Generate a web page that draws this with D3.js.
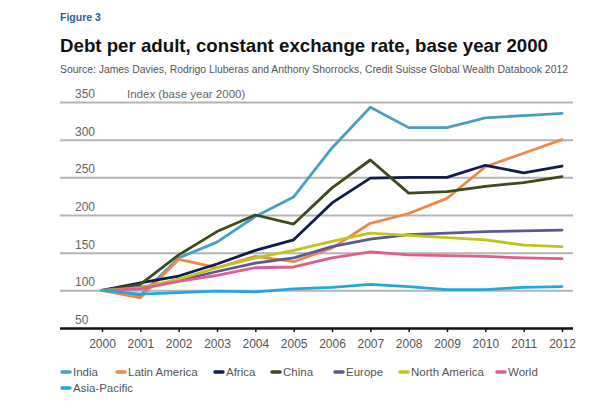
<!DOCTYPE html>
<html><head><meta charset="utf-8">
<script src="https://cdn.jsdelivr.net/npm/d3@7"></script>
<style>body{margin:0;background:#fff;} svg{display:block;}</style>
</head><body>
<svg id="c" width="600" height="413"></svg>
<script>
const years = [2000,2001,2002,2003,2004,2005,2006,2007,2008,2009,2010,2011,2012];
const yTicks = [50,100,150,200,250,300,350];
const seriesNames = ["India","Latin America","Africa","China","Europe","North America","World","Asia-Pacific"];
const india        = [100, 93,143,164,198,224,289,343,316,316,329,332,335];
const latinAmerica = [100, 90,141,130,145,138,156,189,202,222,264,282,300];
const africa       = [100,110,119,135,153,167,216,249,250,250,266,256,265];
const china        = [100,108,147,178,200,188,236,273,229,231,238,243,251];
const europe       = [100,104,113,125,136,143,158,168,174,176,178,179,180];
const northAmerica = [100,103,115,130,143,153,165,176,173,170,167,160,158];
const world        = [100,102,112,120,130,131,143,151,147,146,145,143,142];
const asiaPacific  = [100, 95, 97, 99, 98,102,104,108,105,101,101,104,105];
const values = [india,latinAmerica,africa,china,europe,northAmerica,world,asiaPacific];
const colors = ["#4a9ec2","#e98a4c","#0f1d4d","#3d4a1c","#5b5898","#c3c31e","#e25c8c","#22a9db"];

const svg = d3.select("#c");
const font = "'Liberation Sans', Arial, sans-serif";

svg.append("text").attr("x",60).attr("y",21).attr("font-family",font).attr("font-size",10.5)
  .attr("font-weight","bold").attr("fill","#2b5d9c").text("Figure 3");
svg.append("text").attr("x",60).attr("y",52).attr("font-family",font).attr("font-size",19)
  .attr("fill","#111").attr("font-weight","bold").attr("textLength",488).attr("lengthAdjust","spacingAndGlyphs")
  .text("Debt per adult, constant exchange rate, base year 2000");
svg.append("text").attr("x",60).attr("y",73).attr("font-family",font).attr("font-size",10)
  .attr("fill","#555").attr("textLength",508).attr("lengthAdjust","spacingAndGlyphs")
  .text("Source: James Davies, Rodrigo Lluberas and Anthony Shorrocks, Credit Suisse Global Wealth Databook 2012");

const x = d3.scaleLinear().domain([2000,2012]).range([102,562]);
const y = d3.scaleLinear().domain([50,350]).range([328,102]);

// gridlines
const grid = d3.axisLeft(y).tickValues(yTicks.slice(1)).tickSize(-(573-60)).tickFormat("");
const gg = svg.append("g").attr("transform","translate(60,0)").call(grid);
gg.select(".domain").remove();
gg.selectAll("line").attr("stroke","#b4b4b4").attr("stroke-width",2);

// y labels
svg.append("g").selectAll("text").data(yTicks).join("text")
  .attr("x",75).attr("y",d=>y(d)-4).attr("font-family",font).attr("font-size",12)
  .attr("fill","#666").text(d=>d);
svg.append("text").attr("x",127).attr("y",y(350)-4).attr("font-family",font).attr("font-size",11.5)
  .attr("fill","#666").text("Index (base year 2000)");

// lines
const line = d3.line().x((d,i)=>x(years[i])).y(d=>y(d));
svg.append("g").selectAll("path").data(values).join("path")
  .attr("d",d=>line(d)).attr("fill","none").attr("stroke",(d,i)=>colors[i])
  .attr("stroke-width",2.8).attr("stroke-linejoin","round").attr("stroke-linecap","round");

// x axis
const xa = d3.axisBottom(x).tickValues(years).tickFormat(d3.format("d")).tickSize(4).tickSizeOuter(0);
const xg = svg.append("g").attr("transform",`translate(0,${y(50)})`).call(xa);
xg.select(".domain").attr("d","M60,0.5H573").attr("stroke","#111").attr("stroke-width",2.5);
xg.selectAll("line").attr("stroke","#111").attr("stroke-width",1.5);
xg.selectAll("text").attr("font-family",font).attr("font-size",12).attr("fill","#555").attr("dy","1.05em");

// legend
const legX = [62,117,215,272,335,400,497,62];
const legY = [372,372,372,372,372,372,372,388];
const lg = svg.append("g").selectAll("g").data(seriesNames).join("g")
  .attr("transform",(d,i)=>`translate(${legX[i]},${legY[i]})`);
lg.append("line").attr("x1",0).attr("x2",8).attr("y1",0).attr("y2",0)
  .attr("stroke",(d,i)=>colors[i]).attr("stroke-width",3.5).attr("stroke-linecap","round");
lg.append("text").attr("x",11).attr("y",4).attr("font-family",font).attr("font-size",11.5)
  .attr("fill","#555").text(d=>d);
</script>
</body></html>
